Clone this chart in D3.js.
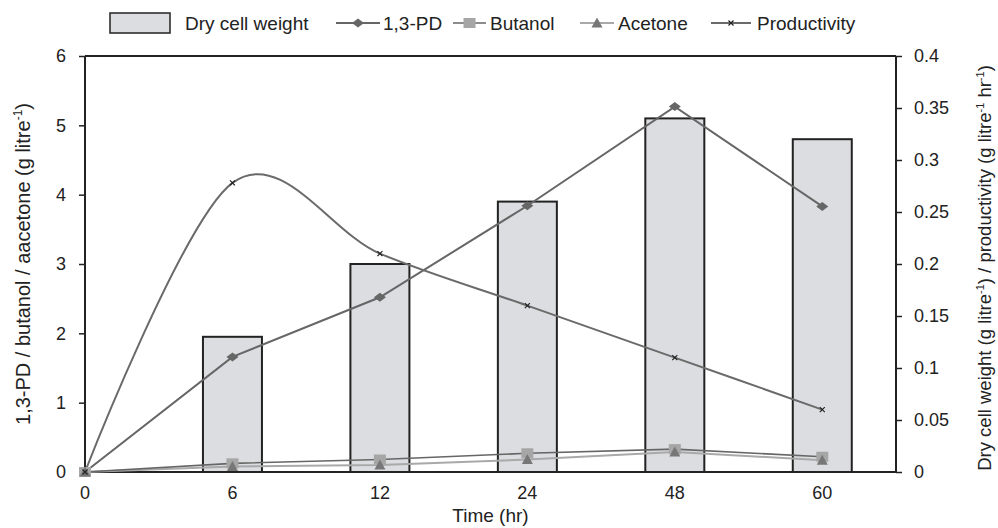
<!DOCTYPE html>
<html><head><meta charset="utf-8">
<script src="https://cdn.jsdelivr.net/npm/d3@7"></script>
<style>
body{margin:0;background:#fff;}
text{font-family:"Liberation Sans",Arial,Helvetica,sans-serif;fill:#222;}
</style></head>
<body><svg id="chart" width="998" height="528"></svg>
<script>
const categories = ["0","6","12","24","48","60"];
const dryCellWeight = [0, 0.13, 0.20, 0.26, 0.34, 0.32];
const pd13 = [0, 1.66, 2.52, 3.84, 5.27, 3.83];
const butanol = [0, 0.125, 0.18, 0.27, 0.33, 0.22];
const acetone = [0, 0.08, 0.10, 0.18, 0.29, 0.17];
const productivity = [0, 0.278, 0.21, 0.16, 0.11, 0.06];
const leftTicks = [0, 1, 2, 3, 4, 5, 6];
const rightTicks = [0, 0.05, 0.1, 0.15, 0.2, 0.25, 0.3, 0.35, 0.4];
const rightTickLabels = ["0","0.05","0.1","0.15","0.2","0.25","0.3","0.35","0.4"];

const svg = d3.select("#chart");
const L = 85, R = 896, T = 56, B = 472;
const x = d3.scaleLinear().domain([0, 5.5]).range([L, R]);
const yL = d3.scaleLinear().domain([0, 6]).range([B, T]);
const yR = d3.scaleLinear().domain([0, 0.4]).range([B, T]);
const idx = categories.map((c, i) => i);
const TICK_FS = "18px";

// bars
const bw = 59;
svg.append("g").selectAll("rect").data(idx.filter(i => dryCellWeight[i] > 0)).join("rect")
  .attr("x", i => x(i) - bw/2).attr("y", i => yR(dryCellWeight[i]))
  .attr("width", bw).attr("height", i => yR(0) - yR(dryCellWeight[i]))
  .attr("fill", "#dcdde0").attr("stroke", "#222").attr("stroke-width", 2);

// axes
const axisG = svg.append("g");
const la = axisG.append("g").attr("transform", `translate(${L},0)`)
  .call(d3.axisLeft(yL).tickValues(leftTicks).tickSize(6).tickPadding(13).tickFormat(d3.format("d")));
const ra = axisG.append("g").attr("transform", `translate(${R},0)`)
  .call(d3.axisRight(yR).tickValues(rightTicks).tickSize(6).tickPadding(12).tickFormat((d,i) => rightTickLabels[i]));
[la, ra].forEach(g => {
  g.select(".domain").remove();
  g.selectAll(".tick line").attr("stroke", "#222").attr("stroke-width", 1.5);
  g.selectAll(".tick text").style("font-family", '"Liberation Sans",Arial,sans-serif').style("font-size", TICK_FS).attr("fill", "#222");
});
axisG.append("line").attr("x1", L).attr("x2", L).attr("y1", T).attr("y2", B).attr("stroke", "#222").attr("stroke-width", 2);
axisG.append("line").attr("x1", R).attr("x2", R).attr("y1", T).attr("y2", B).attr("stroke", "#222").attr("stroke-width", 2);
axisG.append("line").attr("x1", L).attr("x2", R).attr("y1", T).attr("y2", T).attr("stroke", "#222").attr("stroke-width", 2);
axisG.append("line").attr("x1", L).attr("x2", R).attr("y1", B).attr("y2", B).attr("stroke", "#222").attr("stroke-width", 2);
axisG.append("g").selectAll("text").data(idx).join("text")
  .attr("x", i => x(i)).attr("y", 499).attr("text-anchor", "middle")
  .style("font-size", TICK_FS).text(i => categories[i]);

// titles
svg.append("text").attr("x", (L + R) / 2).attr("y", 522).attr("text-anchor", "middle")
  .style("font-size", "19px").text("Time (hr)");
const lt = svg.append("text").attr("transform", `translate(30,${(T + B) / 2}) rotate(-90)`)
  .attr("text-anchor", "middle").style("font-size", "20px");
lt.append("tspan").text("1,3-PD / butanol / aacetone (g litre");
lt.append("tspan").attr("dy", -8).style("font-size", "12px").text("-1");
lt.append("tspan").attr("dy", 8).text(")");
const rt = svg.append("text").attr("transform", `translate(991,${(T + B) / 2 + 4}) rotate(-90)`)
  .attr("text-anchor", "middle").style("font-size", "18.5px");
rt.append("tspan").text("Dry cell weight (g litre");
rt.append("tspan").attr("dy", -7).style("font-size", "11px").text("-1");
rt.append("tspan").attr("dy", 7).text(") / productivity (g litre");
rt.append("tspan").attr("dy", -7).style("font-size", "11px").text("-1");
rt.append("tspan").attr("dy", 7).text(" hr");
rt.append("tspan").attr("dy", -7).style("font-size", "11px").text("-1");
rt.append("tspan").attr("dy", 7).text(")");

// lines
function drawLine(vals, scale, color, width, curve) {
  const g = d3.line().x(i => x(i)).y(i => scale(vals[i]));
  if (curve) g.curve(curve);
  svg.append("path").attr("d", g(idx)).attr("fill", "none").attr("stroke", color).attr("stroke-width", width);
}

drawLine(acetone, yL, "#a9a9a9", 2);
drawLine(butanol, yL, "#666", 1.6);
drawLine(pd13, yL, "#666", 2);
drawLine(productivity, yR, "#6a6a6a", 2, d3.curveCatmullRom.alpha(0));

// markers
function diamond(g, cx, cy) {
  g.append("path").attr("d", `M${cx - 6},${cy}L${cx},${cy - 4.5}L${cx + 6},${cy}L${cx},${cy + 4.5}Z`).attr("fill", "#666");
}
function square(g, cx, cy) {
  g.append("rect").attr("x", cx - 6).attr("y", cy - 5).attr("width", 12).attr("height", 10).attr("fill", "#a6a6a6");
}
function tri(g, cx, cy) {
  g.append("path").attr("d", `M${cx - 5.5},${cy + 4.5}L${cx},${cy - 5.5}L${cx + 5.5},${cy + 4.5}Z`).attr("fill", "#777");
}
function cross(g, cx, cy) {
  g.append("path").attr("d", `M${cx - 2.5},${cy - 2.5}L${cx + 2.5},${cy + 2.5}M${cx - 2.5},${cy + 2.5}L${cx + 2.5},${cy - 2.5}`)
    .attr("stroke", "#222").attr("stroke-width", 1.2);
}
const mk = svg.append("g");
idx.forEach(i => { diamond(mk, x(i), yL(pd13[i])); });
idx.forEach(i => { square(mk, x(i), yL(butanol[i])); });
idx.forEach(i => { tri(mk, x(i), yL(acetone[i])); });
idx.forEach(i => { cross(mk, x(i), yR(productivity[i])); });

// legend
const lg = svg.append("g");
const ly = 23;
const LEG_FS = "19px";
lg.append("rect").attr("x", 110).attr("y", 13).attr("width", 60).attr("height", 20)
  .attr("fill", "#dcdde0").attr("stroke", "#222").attr("stroke-width", 1.5);
lg.append("text").attr("x", 185).attr("y", ly + 7).style("font-size", LEG_FS).text("Dry cell weight");
const legItems = [
  {x1: 336, x2: 380, name: "1,3-PD", color: "#666", w: 2, m: diamond, tx: 383},
  {x1: 453, x2: 486, name: "Butanol", color: "#666", w: 1.6, m: square, tx: 490},
  {x1: 580, x2: 614, name: "Acetone", color: "#a9a9a9", w: 2, m: tri, tx: 618},
  {x1: 711, x2: 751, name: "Productivity", color: "#6a6a6a", w: 2, m: cross, tx: 757}
];
legItems.forEach(d => {
  lg.append("line").attr("x1", d.x1).attr("x2", d.x2).attr("y1", ly).attr("y2", ly).attr("stroke", d.color).attr("stroke-width", d.w);
  d.m(lg, (d.x1 + d.x2) / 2, ly);
  lg.append("text").attr("x", d.tx).attr("y", ly + 7).style("font-size", LEG_FS).text(d.name);
});
</script></body></html>
